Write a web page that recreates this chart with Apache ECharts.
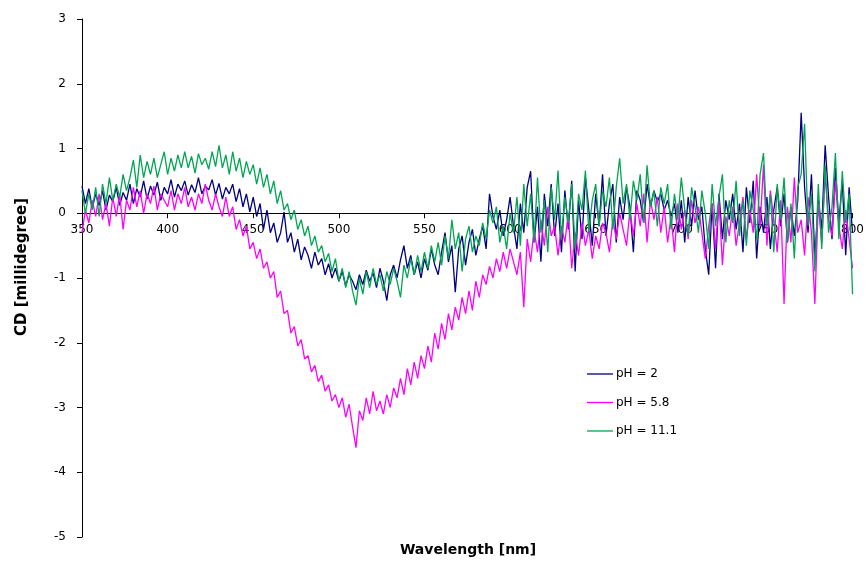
<!DOCTYPE html>
<html>
<head>
<meta charset="utf-8">
<script src="https://cdn.jsdelivr.net/npm/echarts@6/dist/echarts.min.js"></script>
<style>
  html, body { margin: 0; padding: 0; background: #ffffff; }
  #chart { width: 867px; height: 563px; }
</style>
</head>
<body>
<div id="chart"></div>
<script>
// CD spectra of the sample at three pH values, sampled every 2 nm from 350 to 800 nm
const wlStart = 350;
const wlStep = 2;

const xTicks = [350, 400, 450, 500, 550, 600, 650, 700, 750, 800];
const yTicks = [-5, -4, -3, -2, -1, 0, 1, 2, 3];

const seriesNames = ['pH = 2', 'pH = 5.8', 'pH = 11.1'];

const cdPH2 = [
  0.42, 0.15, 0.38, 0.08, 0.30, 0.12, 0.35, 0.05, 0.28, 0.18,
  0.40, 0.12, 0.32, 0.20, 0.45, 0.15, 0.38, 0.25, 0.50, 0.22,
  0.42, 0.28, 0.48, 0.20, 0.40, 0.30, 0.52, 0.25, 0.45, 0.35,
  0.50, 0.28, 0.44, 0.32, 0.55, 0.30, 0.42, 0.36, 0.52, 0.28,
  0.46, 0.22, 0.40, 0.30, 0.45, 0.18, 0.38, 0.10, 0.30, 0.02,
  0.25, -0.05, 0.15, -0.25, 0.05, -0.30, -0.15, -0.45, -0.30, 0.02,
  -0.45, -0.30, -0.60, -0.40, -0.72, -0.52, -0.65, -0.85, -0.60, -0.80,
  -0.70, -0.95, -0.78, -1.00, -0.85, -1.05, -0.90, -1.12, -0.95, -1.05,
  -1.18, -0.95, -1.10, -0.88, -1.05, -0.92, -1.15, -0.85, -1.05, -1.35,
  -0.95, -0.80, -1.00, -0.72, -0.50, -0.85, -0.65, -0.95, -0.75, -1.00,
  -0.70, -0.88, -0.55, -0.80, -0.95, -0.60, -0.30, -0.75, -0.50, -1.22,
  -0.55, -0.35, -0.80, -0.45, -0.25, -0.65, -0.40, -0.20, -0.55, 0.30,
  -0.05, -0.25, 0.05, -0.35, -0.10, 0.25, -0.20, -0.55, 0.15, -0.30,
  0.40, 0.65, -0.45, 0.10, -0.75, 0.30, -0.20, 0.45, -0.35, 0.15,
  -0.60, 0.35, -0.25, 0.50, -0.90, 0.20, -0.40, 0.55, 0.05, -0.50,
  0.30, -0.20, 0.60, -0.35, 0.15, 0.45, -0.45, 0.25, -0.10, 0.40,
  0.10, -0.60, 0.35, 0.20, -0.15, 0.45, 0.10, 0.35, 0.18, 0.30,
  0.05, 0.20, -0.05, 0.15, -0.30, 0.20, -0.45, 0.25, -0.20, 0.35,
  -0.10, 0.10, -0.55, -0.95, 0.15, -0.85, 0.30, -0.40, 0.20, -0.10,
  0.30, -0.25, 0.15, -0.60, 0.40, -0.15, 0.50, -0.70, 0.10, -0.30,
  0.25, -0.55, 0.05, 0.40, -0.20, 0.30, -0.45, 0.10, -0.35, 0.20,
  1.55, 0.40, -0.30, 0.60, -0.70, 0.20, -0.25, 1.05, 0.25, -0.40,
  0.70, -0.15, 0.50, -0.65, 0.40, -0.30
];

const cdPH58 = [
  -0.30, 0.05, -0.15, 0.20, -0.05, 0.30, -0.10, 0.15, -0.20, 0.25,
  -0.05, 0.30, -0.25, 0.20, 0.05, 0.40, 0.10, 0.35, 0.00, 0.30,
  0.15, 0.42, 0.05, 0.30, 0.20, 0.10, 0.35, 0.05, 0.30, 0.15,
  0.40, 0.10, 0.25, 0.05, 0.30, 0.15, 0.45, 0.20, 0.05, 0.30,
  0.10, -0.05, 0.25, -0.05, 0.10, -0.25, -0.10, -0.35, -0.20, -0.55,
  -0.45, -0.70, -0.55, -0.85, -0.75, -1.00, -0.90, -1.30, -1.20, -1.55,
  -1.50, -1.85, -1.75, -2.05, -1.95, -2.25, -2.20, -2.45, -2.35, -2.60,
  -2.50, -2.75, -2.65, -2.90, -2.80, -3.00, -2.85, -3.15, -2.95, -3.30,
  -3.62, -3.05, -3.20, -2.85, -3.10, -2.75, -3.05, -2.90, -3.10, -2.80,
  -3.00, -2.70, -2.85, -2.55, -2.80, -2.40, -2.65, -2.30, -2.55, -2.20,
  -2.40, -2.05, -2.30, -1.85, -2.10, -1.70, -1.95, -1.55, -1.80, -1.45,
  -1.65, -1.30, -1.55, -1.20, -1.50, -1.05, -1.30, -0.95, -1.10, -0.82,
  -1.00, -0.70, -0.90, -0.60, -0.85, -0.55, -0.75, -0.95, -0.60, -1.45,
  -0.40, -0.75, -0.25, -0.60, -0.10, -0.50, 0.10, -0.35, -0.20, -0.65,
  -0.20, -0.45, 0.00, -0.85, -0.30, -0.65, -0.15, -0.50, -0.25, -0.70,
  -0.35, -0.55, -0.15, -0.30, -0.60, -0.10, -0.40, 0.00, -0.25, -0.50,
  0.05, -0.35, 0.15, -0.20, 0.30, -0.45, 0.20, -0.10, 0.25, -0.30,
  0.10, -0.45, -0.05, -0.60, 0.15, -0.25, 0.05, -0.40, 0.20, -0.15,
  0.10, -0.30, -0.70, -0.20, 0.15, -0.55, 0.20, -0.80, -0.05, -0.35,
  0.10, -0.50, -0.15, 0.25, -0.40, 0.05, -0.30, 0.60, -0.20, 0.75,
  -0.50, 0.35, -0.10, -0.60, 0.20, -1.40, 0.10, -0.45, 0.55, -0.30,
  -0.10, -0.65, 0.25, -0.30, -1.40, 0.15, -0.45, 0.60, -0.10, -0.35,
  0.50, -0.20, -0.55, 0.05, -0.40, -0.85
];

const cdPH111 = [
  0.35, 0.00, 0.30, 0.05, 0.40, -0.05, 0.45, 0.15, 0.55, 0.20,
  0.45, 0.25, 0.60, 0.35, 0.55, 0.82, 0.40, 0.90, 0.55, 0.80,
  0.60, 0.85, 0.55, 0.75, 0.95, 0.60, 0.85, 0.65, 0.90, 0.70,
  0.95, 0.70, 0.88, 0.62, 0.92, 0.75, 0.85, 0.68, 0.95, 0.72,
  1.05, 0.70, 0.90, 0.60, 0.95, 0.65, 0.85, 0.55, 0.80, 0.60,
  0.75, 0.45, 0.70, 0.40, 0.60, 0.30, 0.50, 0.15, 0.35, 0.05,
  0.15, -0.10, 0.05, -0.25, -0.10, -0.35, -0.20, -0.50, -0.35, -0.60,
  -0.50, -0.75, -0.62, -0.90, -0.70, -1.05, -0.85, -1.15, -0.90, -1.20,
  -1.42, -1.00, -1.25, -0.90, -1.15, -0.85, -1.10, -0.95, -1.20, -0.90,
  -1.10, -0.85, -1.05, -1.30, -0.80, -1.00, -0.70, -0.95, -0.65, -0.90,
  -0.60, -0.85, -0.50, -0.75, -0.45, -0.80, -0.35, -0.70, -0.10, -0.55,
  -0.30, -0.90, -0.40, -0.20, -0.60, -0.35, -0.50, -0.15, -0.40, 0.05,
  -0.15, 0.10, -0.45, -0.20, -0.55, 0.00, -0.30, 0.25, -0.50, 0.45,
  -0.20, 0.30, -0.45, 0.55, -0.30, 0.20, -0.60, 0.40, -0.10, 0.66,
  -0.40, 0.25, -0.15, 0.45, -0.55, 0.30, 0.05, 0.66, -0.30, 0.20,
  0.45, -0.20, 0.35, 0.10, 0.55, -0.25, 0.40, 0.85, 0.15, 0.45,
  -0.10, 0.50, 0.20, 0.60, -0.15, 0.74, 0.10, 0.35, -0.20, 0.40,
  0.15, 0.45, -0.25, 0.30, -0.10, 0.55, 0.05, -0.35, 0.40, 0.10,
  -0.30, 0.35, 0.00, -0.55, 0.45, -0.20, 0.25, 0.60, -0.45, 0.20,
  -0.15, 0.50, -0.35, 0.20, -0.50, 0.35, 0.05, -0.40, 0.60, 0.93,
  -0.20, 0.30, -0.60, 0.45, -0.10, 0.55, -0.45, 0.15, -0.70, 0.40,
  0.60, 1.38, -0.20, 0.30, -0.90, 0.45, -0.55, 0.75, -0.30, 0.10,
  0.93, -0.40, 0.65, -0.15, 0.30, -1.25
];

const lineColors = ['#000080', '#ff00ff', '#00a651'];

function toPairs(values) {
  return values.map((v, i) => [wlStart + i * wlStep, v]);
}

const font = 'DejaVu Sans, Verdana, sans-serif';
const W = 867, H = 563;
const grid = { left: 82, right: 14, top: 19, bottom: 26 };
const yMin = yTicks[0], yMax = yTicks[yTicks.length - 1];
// lift the wavelength axis from the grid bottom up to the CD = 0 level
const plotH = H - grid.top - grid.bottom;
const zeroLift = plotH * (0 - yMin) / (yMax - yMin);

const chart = echarts.init(document.getElementById('chart'), null, { renderer: 'canvas' });

chart.setOption({
  backgroundColor: '#ffffff',
  animation: false,
  textStyle: { fontFamily: font },
  grid: Object.assign({ containLabel: false }, grid),
  legend: {
    orient: 'vertical',
    left: 587,
    top: 368,
    padding: 0,
    itemWidth: 26,
    itemHeight: 14,
    itemGap: 16.5,
    icon: 'path://M0,0 L26,0 L26,1.3 L0,1.3 Z',
    data: seriesNames,
    textStyle: { fontFamily: font, fontSize: 12, color: '#000000', padding: [0, 0, 0, -2] }
  },
  xAxis: {
    type: 'value',
    position: 'bottom',
    offset: -zeroLift,
    min: xTicks[0],
    max: xTicks[xTicks.length - 1],
    interval: 50,
    axisLine: { onZero: false, lineStyle: { color: '#000000', width: 1 } },
    axisTick: { show: true, inside: false, length: 5, lineStyle: { color: '#000000' } },
    axisLabel: { margin: 11, fontSize: 12, color: '#000000', fontFamily: font },
    splitLine: { show: false }
  },
  yAxis: {
    type: 'value',
    min: yMin,
    max: yMax,
    interval: 1,
    axisLine: { show: true, lineStyle: { color: '#000000', width: 1 } },
    axisTick: { show: true, inside: false, length: 5, lineStyle: { color: '#000000' } },
    axisLabel: { margin: 16, fontSize: 12, color: '#000000', fontFamily: font },
    splitLine: { show: false }
  },
  graphic: [
    {
      type: 'text',
      x: 22,
      y: 267,
      rotation: Math.PI / 2,
      style: {
        text: 'CD [millidegree]',
        align: 'center',
        verticalAlign: 'middle',
        fontFamily: font,
        fontSize: 15,
        fontWeight: 'bold',
        fill: '#000000'
      }
    },
    {
      type: 'text',
      x: 468,
      y: 550,
      style: {
        text: 'Wavelength [nm]',
        align: 'center',
        verticalAlign: 'middle',
        fontFamily: font,
        fontSize: 14,
        fontWeight: 'bold',
        fill: '#000000'
      }
    }
  ],
  series: [cdPH2, cdPH58, cdPH111].map((vals, k) => ({
    name: seriesNames[k],
    type: 'line',
    data: toPairs(vals),
    symbol: 'none',
    smooth: false,
    lineStyle: { color: lineColors[k], width: 1.3 },
    itemStyle: { color: lineColors[k] },
    z: 2 + k
  }))
});
</script>
</body>
</html>
